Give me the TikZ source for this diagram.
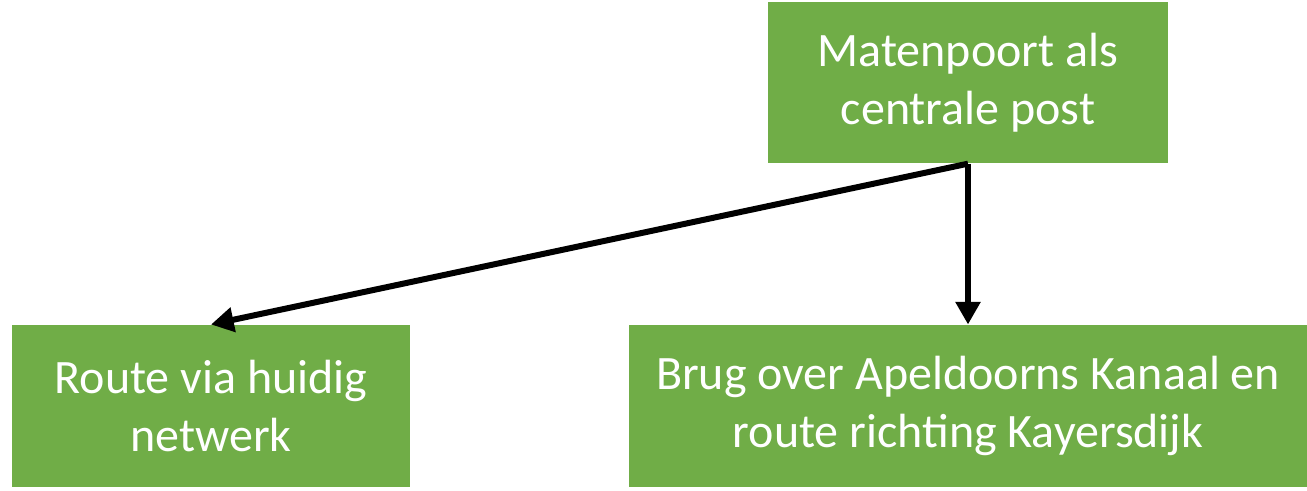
\documentclass[tikz,border=0pt]{standalone}
\usepackage{fontspec}
\setmainfont{Carlito}
\usetikzlibrary{arrows.meta}
\definecolor{boxgreen}{RGB}{112,173,71}
\tikzset{every picture/.style={line width=0.75pt}}
\tikzset{greenbox/.style={fill=boxgreen,draw=none,text=white,align=center,inner sep=0pt,font=\fontsize{36}{43.5}\selectfont},
	link/.style={line width=4.5pt,-{Triangle[length=17pt,width=18pt]}}}

\begin{document}
\begin{tikzpicture}[x=0.75pt,y=0.75pt,yscale=-1,xscale=1]
		\useasboundingbox (0,0) rectangle (1307,491);
		
		%Boxes
		\node [greenbox,minimum width=300pt,minimum height=121pt] (post) at (968,82.5) {Matenpoort als\\centrale post};
		\node [greenbox,minimum width=298.5pt,minimum height=121.5pt] (huidig) at (211,406) {Route via huidig\\netwerk};
		\node [greenbox,minimum width=508.5pt,minimum height=121.5pt] (brug) at (968,406) {Brug over Apeldoorns Kanaal en\\route richting Kayersdijk};
		
		%Arrows
		\draw [link] (post.south) -- (brug.north);
		\draw [link] (post.south) -- (huidig.north);
		
	\end{tikzpicture}
\end{document}
